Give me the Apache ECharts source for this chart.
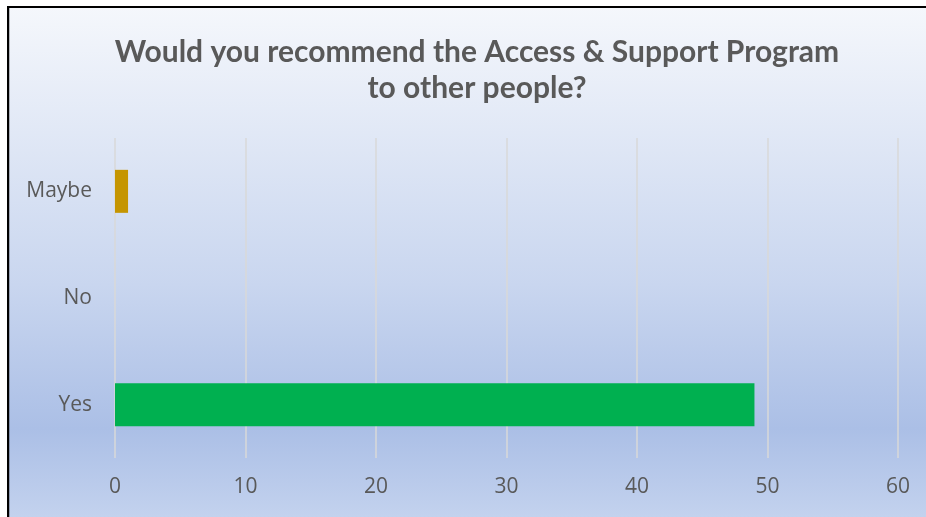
<!DOCTYPE html>
<html>
<head>
<meta charset="utf-8">
<script src="https://cdn.jsdelivr.net/npm/echarts@6/dist/echarts.min.js"></script>
<style>
html,body{margin:0;padding:0;background:#fff;overflow:hidden;}
#c{width:926px;height:517px;}
</style>
</head>
<body>
<div id="c"></div>
<script>
var categories = ['Yes', 'No', 'Maybe'];
var values = [49, 0, 1];
var barColors = ['#00b050', '#5b9bd5', '#c59500'];
var xTicks = { min: 0, max: 60, interval: 10 };
var titleText = 'Would you recommend the Access & Support Program\nto other people?';

var chart = echarts.init(document.getElementById('c'));
chart.setOption({
  backgroundColor: {
    type: 'linear', x: 0, y: 0, x2: 0, y2: 1,
    colorStops: [
      { offset: 0, color: '#f6f8fc' },
      { offset: 0.55, color: '#c9d6ef' },
      { offset: 0.83, color: '#abbfe6' },
      { offset: 1, color: '#c3d2ee' }
    ]
  },
  graphic: [
    { type: 'line', shape: { x1: 8, y1: 0, x2: 8, y2: 517 }, style: { stroke: '#000', lineWidth: 2.5 }, silent: true },
    { type: 'line', shape: { x1: 7, y1: 7, x2: 926, y2: 7 }, style: { stroke: '#000', lineWidth: 2 }, silent: true },
    { type: 'rect', shape: { x: 0, y: 0, width: 7, height: 517 }, style: { fill: '#ffffff' }, silent: true },
    { type: 'rect', shape: { x: 0, y: 0, width: 926, height: 6 }, style: { fill: '#ffffff' }, silent: true }
  ],
  title: {
    text: titleText,
    left: 472, top: 29, textAlign: 'center',
    textStyle: { fontFamily: 'Lato', fontWeight: 'bold', fontSize: 30, color: '#595959', lineHeight: 36 }
  },
  grid: { left: 115, right: 28, top: 138, bottom: 59, containLabel: false },
  xAxis: {
    type: 'value', min: xTicks.min, max: xTicks.max, interval: xTicks.interval,
    axisLine: { show: false }, axisTick: { show: false },
    splitLine: { lineStyle: { color: '#d9d9d9', width: 1.5 } },
    axisLabel: { color: '#595959', fontSize: 21, fontFamily: 'Open Sans', margin: 19 }
  },
  yAxis: {
    type: 'category', data: categories,
    axisLine: { show: false }, axisTick: { show: false },
    axisLabel: { color: '#595959', fontSize: 21, fontFamily: 'Open Sans', margin: 23 }
  },
  series: [{
    type: 'bar',
    data: values.map(function (v, i) { return { value: v, itemStyle: { color: barColors[i] } }; }),
    barWidth: 43
  }]
});
</script>
</body>
</html>
